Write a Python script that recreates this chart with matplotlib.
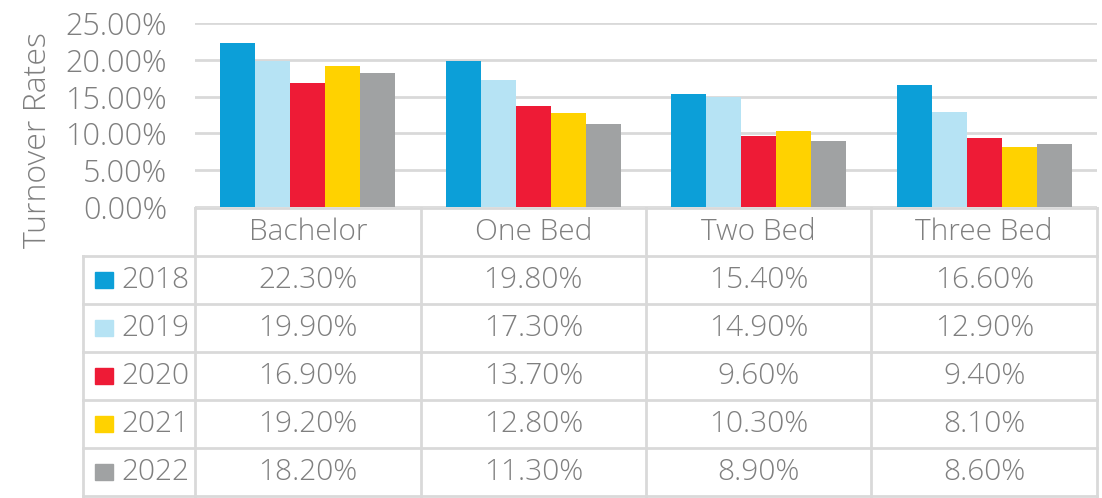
import numpy as np
import matplotlib
matplotlib.use("Agg")
import matplotlib.pyplot as plt
from matplotlib.patches import Rectangle

plt.rcParams['font.family'] = ['Open Sans', 'DejaVu Sans']
plt.rcParams['font.weight'] = 'light'

categories = ['Bachelor', 'One Bed', 'Two Bed', 'Three Bed']
years = ['2018', '2019', '2020', '2021', '2022']
rates = {
    '2018': [22.3, 19.8, 15.4, 16.6],
    '2019': [19.9, 17.3, 14.9, 12.9],
    '2020': [16.9, 13.7, 9.6, 9.4],
    '2021': [19.2, 12.8, 10.3, 8.1],
    '2022': [18.2, 11.3, 8.9, 8.6],
}
colors = ['#0c9fd8', '#b6e3f4', '#ee1b36', '#ffd200', '#a0a2a3']
yticks = [0, 5, 10, 15, 20, 25]

W, H = 1102, 498
TXT = '#7f7f7f'
GRID = '#d9d9d9'
FS = 21.5

fig = plt.figure(figsize=(W / 100, H / 100), dpi=100)

# bar chart area
ax = fig.add_axes([195 / W, (H - 207) / H, (1097 - 195) / W, (207 - 23) / H])
bw = 0.155
n = len(years)
x = np.arange(len(categories)) + 0.5
for i, yr in enumerate(years):
    ax.bar(x + (i - (n - 1) / 2) * bw, rates[yr], bw, color=colors[i],
           zorder=3, linewidth=0)
ax.set_xlim(0, len(categories))
ax.set_ylim(0, 25)
ax.set_yticks(yticks)
ax.set_yticklabels([f'{t:.2f}%' for t in yticks], color=TXT, fontsize=22)
ax.tick_params(axis='y', length=0, pad=20)
ax.set_xticks([])
ax.grid(axis='y', color=GRID, linewidth=2, zorder=0)
for s in ax.spines.values():
    s.set_visible(False)
fig.text(38 / W, 1 - 140 / H, 'Turnover Rates', rotation=90, color=TXT,
         fontsize=23, ha='center', va='center')

# data table below
left_w = (195 - 83) / 225.5
tab = fig.add_axes([83 / W, (H - 496) / H, (1097 - 83) / W, (496 - 208) / H])
tab.set_xlim(-left_w, len(categories))
tab.set_ylim(len(years) + 1, 0)
tab.axis('off')
lw = 2
# header row
tab.plot([0, len(categories)], [0, 0], color=GRID, lw=lw, clip_on=False)
for j in range(len(categories) + 1):
    tab.plot([j, j], [0, len(years) + 1], color=GRID, lw=lw, clip_on=False)
for r in range(1, len(years) + 2):
    tab.plot([-left_w, len(categories)], [r, r], color=GRID, lw=lw, clip_on=False)
tab.plot([-left_w, -left_w], [1, len(years) + 1], color=GRID, lw=lw, clip_on=False)

for j, c in enumerate(categories):
    tab.text(j + 0.5, 0.5, c, ha='center', va='center', color=TXT, fontsize=FS)
for i, yr in enumerate(years):
    r = i + 1.5
    tab.add_patch(Rectangle((-left_w + 0.053, r - 0.17), 0.08, 0.34,
                            color=colors[i], clip_on=False))
    tab.text(-left_w + 0.168, r, yr, ha='left', va='center', color=TXT, fontsize=FS)
    for j in range(len(categories)):
        tab.text(j + 0.5, r, f'{rates[yr][j]:.2f}%', ha='center', va='center',
                 color=TXT, fontsize=FS)

fig.savefig('out.png', dpi=100)
